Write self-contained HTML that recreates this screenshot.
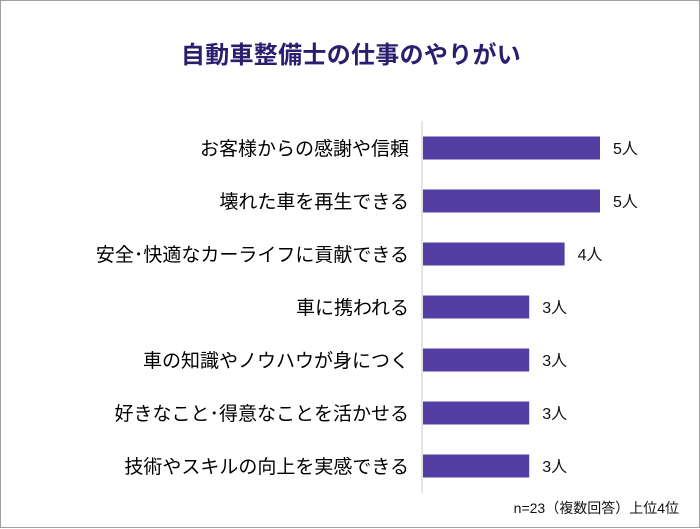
<!DOCTYPE html>
<html><head><meta charset="utf-8"><style>
body{margin:0;background:#fff}
#wrap{position:relative;width:698px;height:526px;border:1px solid #a0a0a0;background:#fff;font-family:"Liberation Sans","Noto Sans CJK JP",sans-serif}
#title{position:absolute;left:0;width:700px;top:34px;text-align:center;font-size:24px;color:#2a1f6e;font-weight:bold;letter-spacing:0.3px}
#note{position:absolute;right:20px;top:497px;font-size:14px;color:#111}
</style></head><body>
<div id="wrap">
<div id="title">自動車整備士の仕事のやりがい</div>
<svg id="chart" width="700" height="528" style="position:absolute;left:0;top:0"></svg>
<div id="note">n=23（複数回答）上位4位</div>
</div>
<script>
const categories=["お客様からの感謝や信頼","壊れた車を再生できる","安全･快適なカーライフに貢献できる","車に携われる","車の知識やノウハウが身につく","好きなこと･得意なことを活かせる","技術やスキルの向上を実感できる"];
const values=[5,5,4,3,3,3,3];
const valueLabels=["5人","5人","4人","3人","3人","3人","3人"];
const svg=document.getElementById('chart');
const NS="http://www.w3.org/2000/svg";
const x0=422,unit=35.4,y0=147,step=53,bh=23;
function xs(v){return x0+v*unit;}
function ys(i){return y0+i*step;}
const ax=document.createElementNS(NS,'line');
ax.setAttribute('x1',421);ax.setAttribute('x2',421);ax.setAttribute('y1',120);ax.setAttribute('y2',492);
ax.setAttribute('stroke','#c8c8c8');ax.setAttribute('stroke-width','1');


svg.appendChild(ax);
categories.forEach((c,i)=>{
 const t=document.createElementNS(NS,'text');
 t.setAttribute('x',408);t.setAttribute('y',ys(i)+7);t.setAttribute('text-anchor','end');
 t.setAttribute('font-size','19');t.setAttribute('fill','#000');
 t.setAttribute('font-family','"Liberation Sans","Noto Sans CJK JP",sans-serif');
 t.textContent=c;
 
 
 svg.appendChild(t);
 const r=document.createElementNS(NS,'rect');
 r.setAttribute('x',x0);r.setAttribute('y',ys(i)-bh/2);r.setAttribute('width',xs(values[i])-x0);r.setAttribute('height',bh);
 r.setAttribute('fill','#533ea3');
 
 
 svg.appendChild(r);
 const v=document.createElementNS(NS,'text');
 v.setAttribute('x',xs(values[i])+13);v.setAttribute('y',ys(i)+6);
 v.setAttribute('font-size','16');v.setAttribute('fill','#111');
 v.setAttribute('font-family','"Liberation Sans","Noto Sans CJK JP",sans-serif');
 v.textContent=valueLabels[i];
 
 
 svg.appendChild(v);
});
</script>
</body></html>
